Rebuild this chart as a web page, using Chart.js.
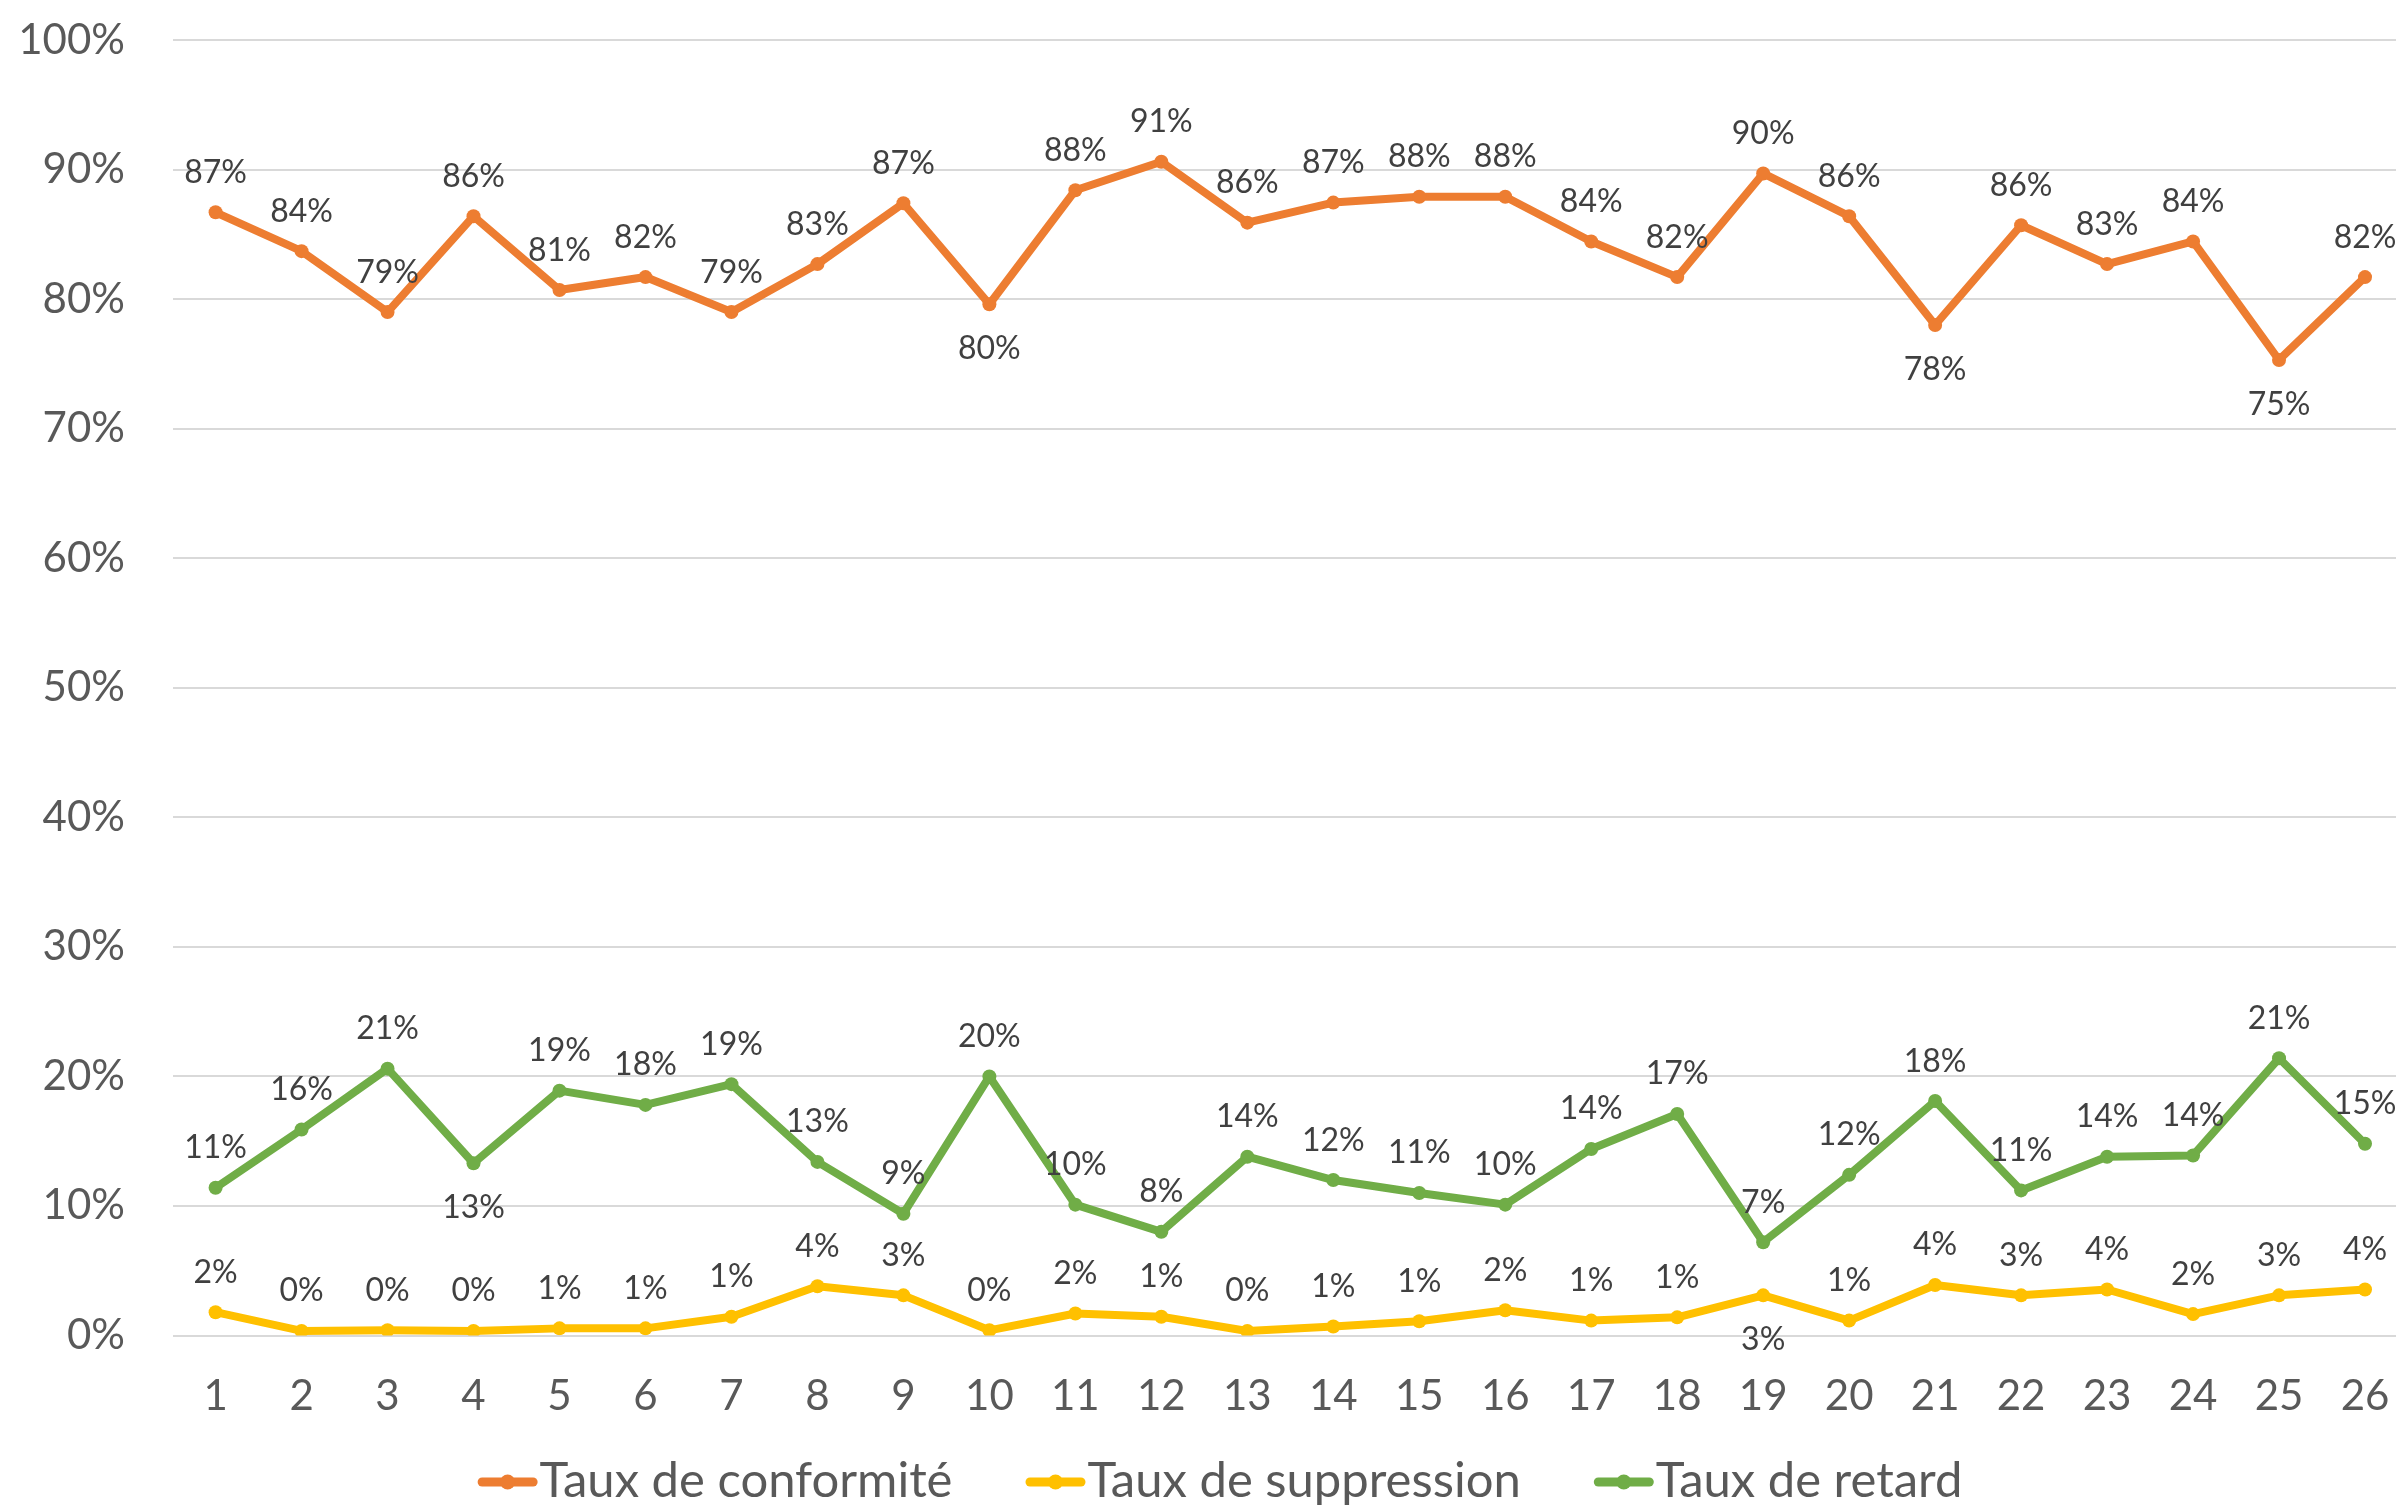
<!DOCTYPE html>
<html>
<head>
<meta charset="utf-8">
<script src="https://cdn.jsdelivr.net/npm/chart.js@4.4.1/dist/chart.umd.min.js"></script>
<style>
  html, body { margin: 0; padding: 0; background: #ffffff; width: 2396px; height: 1507px; overflow: hidden; }
  #wrap { position: absolute; left: 0; top: 0; width: 2440px; height: 1507px; }
</style>
</head>
<body>
<div id="wrap"><canvas id="c" width="2440" height="1507"></canvas></div>
<script>
// ---------- DATA ----------
const categories = ['1','2','3','4','5','6','7','8','9','10','11','12','13','14','15','16','17','18','19','20','21','22','23','24','25','26'];
const seriesNames = ['Taux de conformité', 'Taux de suppression', 'Taux de retard'];
const tauxConformite = [86.7, 83.7, 79.0, 86.4, 80.7, 81.7, 79.0, 82.7, 87.4, 79.6, 88.4, 90.6, 85.9, 87.45, 87.9, 87.9, 84.45, 81.7, 89.7, 86.4, 78.0, 85.7, 82.7, 84.45, 75.3, 81.7];
const tauxSuppression = [1.8, 0.35, 0.4, 0.35, 0.55, 0.55, 1.45, 3.8, 3.1, 0.4, 1.7, 1.45, 0.35, 0.7, 1.1, 1.95, 1.15, 1.4, 3.1, 1.15, 3.9, 3.1, 3.55, 1.65, 3.1, 3.55];
const tauxRetard = [11.4, 15.9, 20.6, 13.3, 18.9, 17.8, 19.4, 13.4, 9.4, 20.0, 10.1, 8.0, 13.8, 12.0, 11.0, 10.1, 14.4, 17.1, 7.2, 12.4, 18.1, 11.2, 13.8, 13.9, 21.4, 14.8];
const yTickValues = [0, 10, 20, 30, 40, 50, 60, 70, 80, 90, 100];

// ---------- STYLE ----------
const seriesColors = ['#ED7D31', '#FFC000', '#70AD47'];
// indices of data labels placed below their point (per series)
const labelsBelow = [[9, 20, 24], [18], [3]];
const FONT = 'Lato, "Liberation Sans", Arial, sans-serif';

const dataLabelPlugin = {
  id: 'dataLabels',
  afterDatasetsDraw(chart) {
    const ctx = chart.ctx;
    ctx.save();
    ctx.font = '32px ' + FONT;
    ctx.fillStyle = '#404040';
    ctx.textAlign = 'center';
    ctx.textBaseline = 'alphabetic';
    chart.data.datasets.forEach((ds, i) => {
      const meta = chart.getDatasetMeta(i);
      meta.data.forEach((pt, j) => {
        const txt = Math.round(ds.data[j]) + '%';
        const below = labelsBelow[i].includes(j);
        const y = below ? pt.y + 55 : pt.y - 29.5;
        ctx.fillText(txt, pt.x, y);
      });
    });
    ctx.restore();
  }
};

const legendPlugin = {
  id: 'customLegend',
  afterDraw(chart) {
    const ctx = chart.ctx;
    ctx.save();
    ctx.font = '49px ' + FONT;
    const markerW = 60, gapText = 2, itemGap = 73;
    const items = chart.data.datasets.map(ds => ({ text: ds.label, color: ds.borderColor, w: ctx.measureText(ds.label).width }));
    const total = items.reduce((s, it) => s + markerW + gapText + it.w, 0) + itemGap * (items.length - 1);
    let x = chart.width / 2 - total / 2;
    const yMid = 1482, baseline = 1497;
    items.forEach(it => {
      ctx.strokeStyle = it.color;
      ctx.lineWidth = 9;
      ctx.lineCap = 'round';
      ctx.beginPath();
      ctx.moveTo(x + 4.5, yMid);
      ctx.lineTo(x + markerW - 4.5, yMid);
      ctx.stroke();
      ctx.fillStyle = it.color;
      ctx.beginPath();
      ctx.arc(x + markerW / 2, yMid, 7.5, 0, Math.PI * 2);
      ctx.fill();
      ctx.fillStyle = '#595959';
      ctx.textAlign = 'left';
      ctx.textBaseline = 'alphabetic';
      ctx.fillText(it.text, x + markerW + gapText, baseline);
      x += markerW + gapText + it.w + itemGap;
    });
    ctx.restore();
  }
};

function makeDataset(label, data, color) {
  return {
    label, data,
    borderColor: color,
    backgroundColor: color,
    borderWidth: 8,
    borderJoinStyle: 'round',
    borderCapStyle: 'round',
    tension: 0,
    pointRadius: 7,
    pointHoverRadius: 7,
    pointBorderWidth: 0,
    pointBackgroundColor: color,
    fill: false
  };
}

function draw() {
  new Chart(document.getElementById('c'), {
    type: 'line',
    data: {
      labels: categories,
      datasets: [
        makeDataset(seriesNames[0], tauxConformite, seriesColors[0]),
        makeDataset(seriesNames[1], tauxSuppression, seriesColors[1]),
        makeDataset(seriesNames[2], tauxRetard, seriesColors[2])
      ]
    },
    options: {
      responsive: false,
      devicePixelRatio: 1,
      animation: false,
      events: [],
      layout: { padding: { left: 0, top: 40, right: 32, bottom: 0 } },
      plugins: { legend: { display: false }, tooltip: { enabled: false }, title: { display: false } },
      scales: {
        x: {
          offset: true,
          grid: { display: false, drawTicks: false },
          border: { display: false },
          ticks: { color: '#595959', font: { family: FONT, size: 42 }, padding: 36, maxRotation: 0, autoSkip: false },
          afterFit(scale) { scale.height = 171.5; scale.paddingLeft = 0; scale.paddingRight = 0; }
        },
        y: {
          min: 0, max: 100,
          afterBuildTicks(scale) { scale.ticks = yTickValues.map(v => ({ value: v })); },
          grid: { color: '#D9D9D9', lineWidth: 2, drawTicks: false },
          border: { display: false },
          ticks: { color: '#595959', font: { family: FONT, size: 42 }, padding: 47.6, callback: v => v + '%' },
          afterFit(scale) { scale.width = 172.6; scale.paddingTop = 10; scale.paddingBottom = 10; }
        }
      }
    },
    plugins: [dataLabelPlugin, legendPlugin]
  });
}

if (document.fonts && document.fonts.load) {
  Promise.all([document.fonts.load('42px Lato'), document.fonts.load('32px Lato')]).then(draw, draw);
} else { draw(); }
</script>
</body>
</html>
